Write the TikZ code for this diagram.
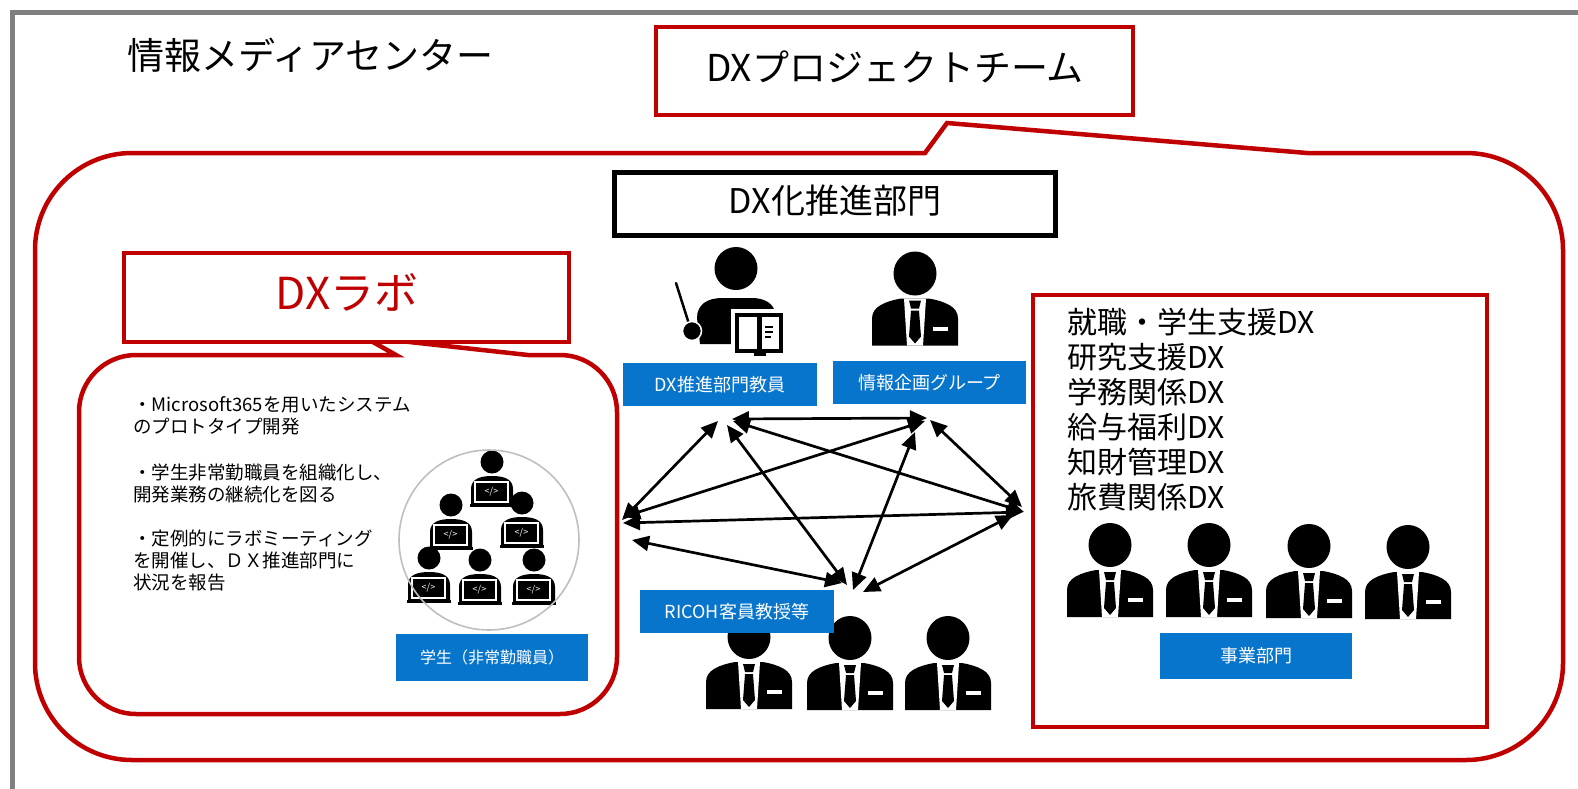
\documentclass[tikz,border=0pt]{standalone}
\usepackage{fontspec}
\setmainfont{Noto Sans CJK JP}
\usetikzlibrary{arrows.meta}
\definecolor{dxred}{HTML}{C00000}
\definecolor{dxblue}{RGB}{8,117,204}
\definecolor{framegray}{HTML}{808080}
\definecolor{ringgray}{HTML}{BFBFBF}

\tikzset{
  % business person with suit and tie; origin = head centre
  pics/suit/.style={code={
    \fill (0,0) ellipse [x radius=21.5, y radius=22];
    \fill (-43,72) -- (-43,45) .. controls (-43,33) and (-30,28) .. (-14,25)
          -- (14,25) .. controls (30,28) and (43,33) .. (43,45) -- (43,72) -- cycle;
    \fill[white] (-11,25) -- (11,25) -- (8,72) -- (-8,72) -- cycle;
    \fill (-6,27) -- (6,27) -- (4,35) -- (-4,35) -- cycle;
    \fill (-4,37) -- (4,37) -- (6,63) -- (0,70) -- (-6,63) -- cycle;
    \fill[white] (18,53) rectangle (33,57);
  }},
  % student working on a laptop; origin = head centre
  pics/coder/.style={code={
    \fill (0,0) circle (11.5);
    \fill (-21,43) -- (-21,27) .. controls (-21,17) and (-12,14) .. (0,14)
          .. controls (12,14) and (21,17) .. (21,27) -- (21,43) -- cycle;
    \filldraw[fill=black, draw=white, line width=1.1pt] (-17,20) rectangle (16,40);
    \fill (-22,41.5) rectangle (22,44.5);
    \node[text=white, inner sep=0pt, font=\fontsize{9}{9}\selectfont] (-code) at (-0.5,30) {</>};
  }}
}

\begin{document}
\begin{tikzpicture}[x=1pt, y=-1pt,
  redline/.style={draw=dxred, line width=4.5pt},
  bluetag/.style={fill=dxblue, text=white, inner sep=0pt, minimum width=194pt,
    minimum height=43pt, font=\fontsize{18}{18}\selectfont},
  link/.style={{Triangle[length=17pt,width=15pt]}-{Triangle[length=17pt,width=15pt]},
    line width=2.7pt},
  plain/.style={inner sep=0pt}
]
\useasboundingbox (0,0) rectangle (1578,788);
\fill[white] (0,0) rectangle (1578,788);

% outer frame of the centre
\draw[framegray, line width=4.5pt] (12.5,820) -- (12.5,12.5) -- (1600,12.5);
\node[plain, anchor=west, font=\fontsize{37}{37}\selectfont] (center) at (127,55) {情報メディアセンター};

% DX project team callout
\draw[redline, line join=miter]
  (35,250) arc[start angle=180, end angle=270, radius=97]
  -- (925,153) -- (947,123) -- (1307,153) -- (1466,153)
  arc[start angle=270, end angle=360, radius=97]
  -- (1563,663) arc[start angle=0, end angle=90, radius=97]
  -- (132,760) arc[start angle=90, end angle=180, radius=97] -- cycle;
\node[redline, fill=white, minimum width=477pt, minimum height=88pt] (teambox) at (894.5,71) {};
\node[plain, font=\fontsize{37}{37}\selectfont] (team) at (895,67) {DXプロジェクトチーム};

% DX promotion division
\node[draw=black, line width=5pt, minimum width=441pt, minimum height=63pt] (divbox) at (834.5,203.5) {};
\node[plain, font=\fontsize{34}{34}\selectfont] (div) at (835,201) {DX化推進部門};

% DX lab callout
\draw[redline, line join=miter]
  (79,412) arc[start angle=180, end angle=270, radius=57]
  -- (396,355) -- (364,337) -- (528,355) -- (560,355)
  arc[start angle=270, end angle=360, radius=57]
  -- (617,657) arc[start angle=0, end angle=90, radius=57]
  -- (136,714) arc[start angle=90, end angle=180, radius=57] -- cycle;
\node[redline, fill=white, minimum width=445pt, minimum height=89pt] (labbox) at (346.5,297.5) {};
\node[plain, text=dxred, font=\fontsize{44}{44}\selectfont] (lab) at (347,292) {DXラボ};

\node[plain, anchor=west, align=left, font=\fontsize{18.5}{22.5}\selectfont] (p1) at (133,416)
  {・Microsoft365を用いたシステム\\のプロトタイプ開発};
\node[plain, anchor=west, align=left, font=\fontsize{18.5}{22.5}\selectfont] (p2) at (133,483.5)
  {・学生非常勤職員を組織化し、\\開発業務の継続化を図る};
\node[plain, anchor=west, align=left, font=\fontsize{18.5}{22}\selectfont] (p3) at (133,561)
  {・定例的にラボミーティング\\を開催し、ＤＸ推進部門に\\状況を報告};

% student staff
\pic (s1) at (492,462) {coder};
\pic (s2) at (451,505) {coder};
\pic (s3) at (522,503) {coder};
\pic (s4) at (429,558) {coder};
\pic (s5) at (480,560) {coder};
\pic (s6) at (534,560) {coder};
\draw[ringgray, line width=1.6pt] (489,540) circle (90);
\node[bluetag, minimum width=192pt, minimum height=47pt, font=\fontsize{16}{16}\selectfont] (students) at (492,657.5) {学生（非常勤職員）};

% faculty member with pointer and book
\fill (736,268.5) circle (21.5);
\fill (700,344) -- (697,318) .. controls (697,304) and (708,298) .. (722,298)
  -- (752,298) .. controls (765,298) and (774,304) .. (775,313) -- (775,344) -- cycle;
\draw[line width=2.5pt, line cap=round] (676,283) -- (689,324);
\filldraw[fill=black, draw=white, line width=1.5pt] (692,331) circle (9.5);
\fill[white] (731,309) rectangle (787,357);
\fill (735,313) rectangle (783,353);
\fill[white] (739,317) rectangle (757,349);
\fill[white] (762,317) rectangle (779,349);
\draw[line width=1.3pt] (765,327) -- (773,327) (765,332) -- (773,332) (765,337) -- (771,337);
\fill (754,352) rectangle (766,356);
\node[bluetag] (faculty) at (720,384.5) {DX推進部門教員};

% planning group
\pic (plan) at (915,273.5) {suit};
\node[bluetag, minimum width=193pt] (planning) at (929.5,382.5) {情報企画グループ};

% visiting professors
\pic (r1) at (749,637) {suit};
\pic (r2) at (850,638) {suit};
\pic (r3) at (948,638) {suit};
\node[bluetag] (ricoh) at (737,611.5) {RICOH客員教授等};

% business divisions
\node[redline, minimum width=454pt, minimum height=432pt] (bizbox) at (1260,511) {};
\node[plain, anchor=west, align=left, font=\fontsize{30}{35}\selectfont] (bizlist) at (1067,409.5)
  {就職・学生支援DX\\研究支援DX\\学務関係DX\\給与福利DX\\知財管理DX\\旅費関係DX};
\pic (b1) at (1110,545) {suit};
\pic (b2) at (1209,545) {suit};
\pic (b3) at (1309,546) {suit};
\pic (b4) at (1408,547) {suit};
\node[bluetag, minimum width=192pt, minimum height=46pt] (biz) at (1256,656) {事業部門};

% links between the members
\coordinate (ab1) at (732,419);  \coordinate (ab2) at (927,418);
\coordinate (ac1) at (718,421);  \coordinate (ac2) at (622,520);
\coordinate (ad1) at (733,421);  \coordinate (ad2) at (1024,512);
\coordinate (ae1) at (727,425);  \coordinate (ae2) at (847,585);
\coordinate (bc1) at (925,421);  \coordinate (bc2) at (623,517);
\coordinate (bd1) at (930,420);  \coordinate (bd2) at (1022,507);
\coordinate (be1) at (915,432);  \coordinate (be2) at (853,590);
\coordinate (cd1) at (623,523);  \coordinate (cd2) at (1023,512);
\coordinate (de1) at (1013,515); \coordinate (de2) at (863,592);
\coordinate (fe1) at (632,540);  \coordinate (fe2) at (842,583);
\foreach \p in {ab,ac,ad,ae,bc,bd,be,cd,de,fe}
  \draw[link] (\p1) -- (\p2);
\end{tikzpicture}
\end{document}
